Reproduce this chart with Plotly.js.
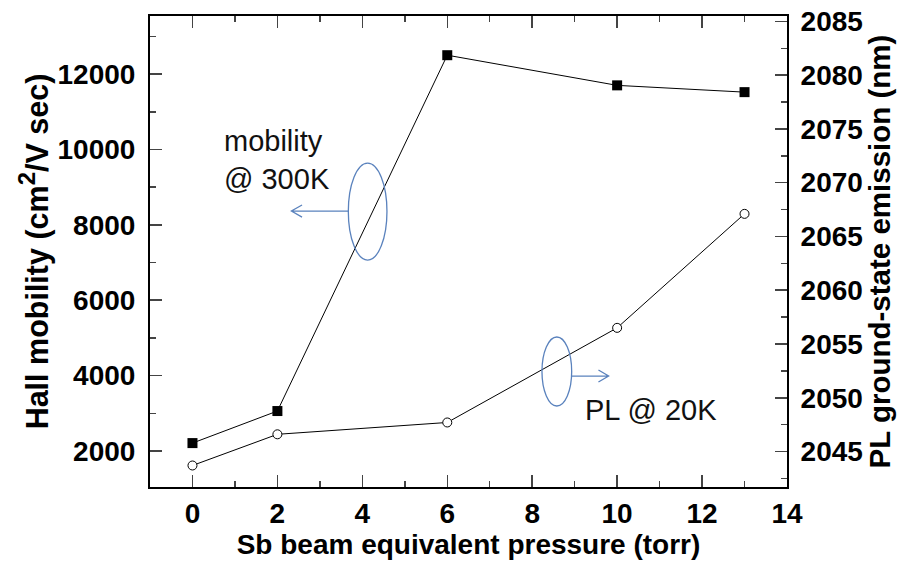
<!DOCTYPE html>
<html>
<head>
<meta charset="utf-8">
<script src="https://cdn.plot.ly/plotly-3.0.1.min.js"></script>
<style>html,body{margin:0;padding:0;background:#fff}#chart{width:907px;height:563px}</style>
</head>
<body>
<div id="chart"></div>
<script>
const pressure = [0, 2, 6, 10, 13];
const mobility = [2210, 3060, 12500, 11700, 11520];
const plEmission = [2043.7, 2046.6, 2047.7, 2056.5, 2067.1];
const xTicks = [0, 2, 4, 6, 8, 10, 12, 14];
const yTicks = [2000, 4000, 6000, 8000, 10000, 12000];
const yTickText = ['2000', '4000', '6000', '8000', '10000', '12000'];
const y2Ticks = [2045, 2050, 2055, 2060, 2065, 2070, 2075, 2080, 2085];

const FONT = 'Arial, "Liberation Sans", sans-serif';
const BLUE = '#5a82bd';

const traces = [
  {x: pressure, y: mobility, type: 'scatter', mode: 'lines+markers', yaxis: 'y',
   line: {color: '#000', width: 1},
   marker: {symbol: 'square', size: 10, color: '#000'}},
  {x: pressure, y: plEmission, type: 'scatter', mode: 'lines+markers', yaxis: 'y2',
   line: {color: '#000', width: 1},
   marker: {symbol: 'circle', size: 9, color: '#fff', line: {color: '#000', width: 1}}}
];

const tf = {family: FONT, size: 28, color: '#000', weight: 'bold'};
const titf = {family: FONT, size: 28, color: '#000', weight: 'bold'};

const layout = {
  width: 907, height: 563,
  margin: {l: 150, r: 120, t: 16, b: 76},
  paper_bgcolor: '#fff', plot_bgcolor: '#fff',
  showlegend: false,
  xaxis: {
    range: [-1, 14], tickvals: xTicks, ticks: 'inside', ticklen: 12, tickwidth: 1.5,
    minor: {dtick: 1, ticks: 'inside', ticklen: 6, tickwidth: 1.5},
    showline: true, linewidth: 2, linecolor: '#000', mirror: 'ticks',
    showgrid: false, zeroline: false, tickfont: tf, ticklabelstandoff: 0,
    automargin: false,
    title: {text: 'Sb beam equivalent pressure (torr)', font: titf, standoff: 0}
  },
  yaxis: {
    range: [1045, 13540], tickvals: yTicks, ticktext: yTickText,
    ticks: 'inside', ticklen: 12, tickwidth: 1.5,
    minor: {dtick: 1000, ticks: 'inside', ticklen: 6, tickwidth: 1.5},
    showline: true, linewidth: 2, linecolor: '#000',
    showgrid: false, zeroline: false, tickfont: tf, ticklabelstandoff: 7,
    automargin: false,
    title: {text: 'Hall mobility (cm<sup><span style="font-size:24px">2</span></sup>/V sec)',
            font: {family: FONT, size: 30.5, color: '#000', weight: 'bold'}, standoff: 0}
  },
  yaxis2: {
    overlaying: 'y', side: 'right',
    range: [2041.7, 2085.5], tickvals: y2Ticks, ticks: 'inside', ticklen: 12, tickwidth: 1.5,
    minor: {dtick: 2.5, ticks: 'inside', ticklen: 6, tickwidth: 1.5},
    showline: true, linewidth: 2, linecolor: '#000',
    showgrid: false, zeroline: false, tickfont: tf, ticklabelstandoff: 6,
    automargin: false,
    title: {text: 'PL ground-state emission (nm)',
            font: {family: FONT, size: 29.5, color: '#000', weight: 'bold'}, standoff: 3}
  },
  shapes: [
    {type: 'circle', xref: 'x', yref: 'y', x0: 3.67, x1: 4.58, y0: 7066, y1: 9639,
     line: {color: BLUE, width: 1.3}},
    {type: 'path', xref: 'x', yref: 'y', path: 'M3.67,8366 L2.33,8366 M2.58,8206 L2.33,8366 L2.58,8526',
     line: {color: BLUE, width: 1.3}},
    {type: 'circle', xref: 'x', yref: 'y', x0: 8.23, x1: 8.93, y0: 3194, y1: 5024,
     line: {color: BLUE, width: 1.3}},
    {type: 'path', xref: 'x', yref: 'y', path: 'M8.93,3989 L9.80,3989 M9.56,3829 L9.80,3989 L9.56,4149',
     line: {color: BLUE, width: 1.3}}
  ],
  annotations: [
    {xref: 'paper', yref: 'paper', x: (222 - 150) / 637, y: (487 - 160) / 471,
     xanchor: 'left', yanchor: 'middle', align: 'left', showarrow: false,
     text: 'mobility<br>@ 300K', font: {family: FONT, size: 29, color: '#111'}},
    {xref: 'paper', yref: 'paper', x: (583 - 150) / 637, y: (487 - 410) / 471,
     xanchor: 'left', yanchor: 'middle', showarrow: false,
     text: 'PL @ 20K', font: {family: FONT, size: 29, color: '#111'}}
  ]
};

Plotly.newPlot('chart', traces, layout, {displayModeBar: false, staticPlot: true});
</script>
</body>
</html>
